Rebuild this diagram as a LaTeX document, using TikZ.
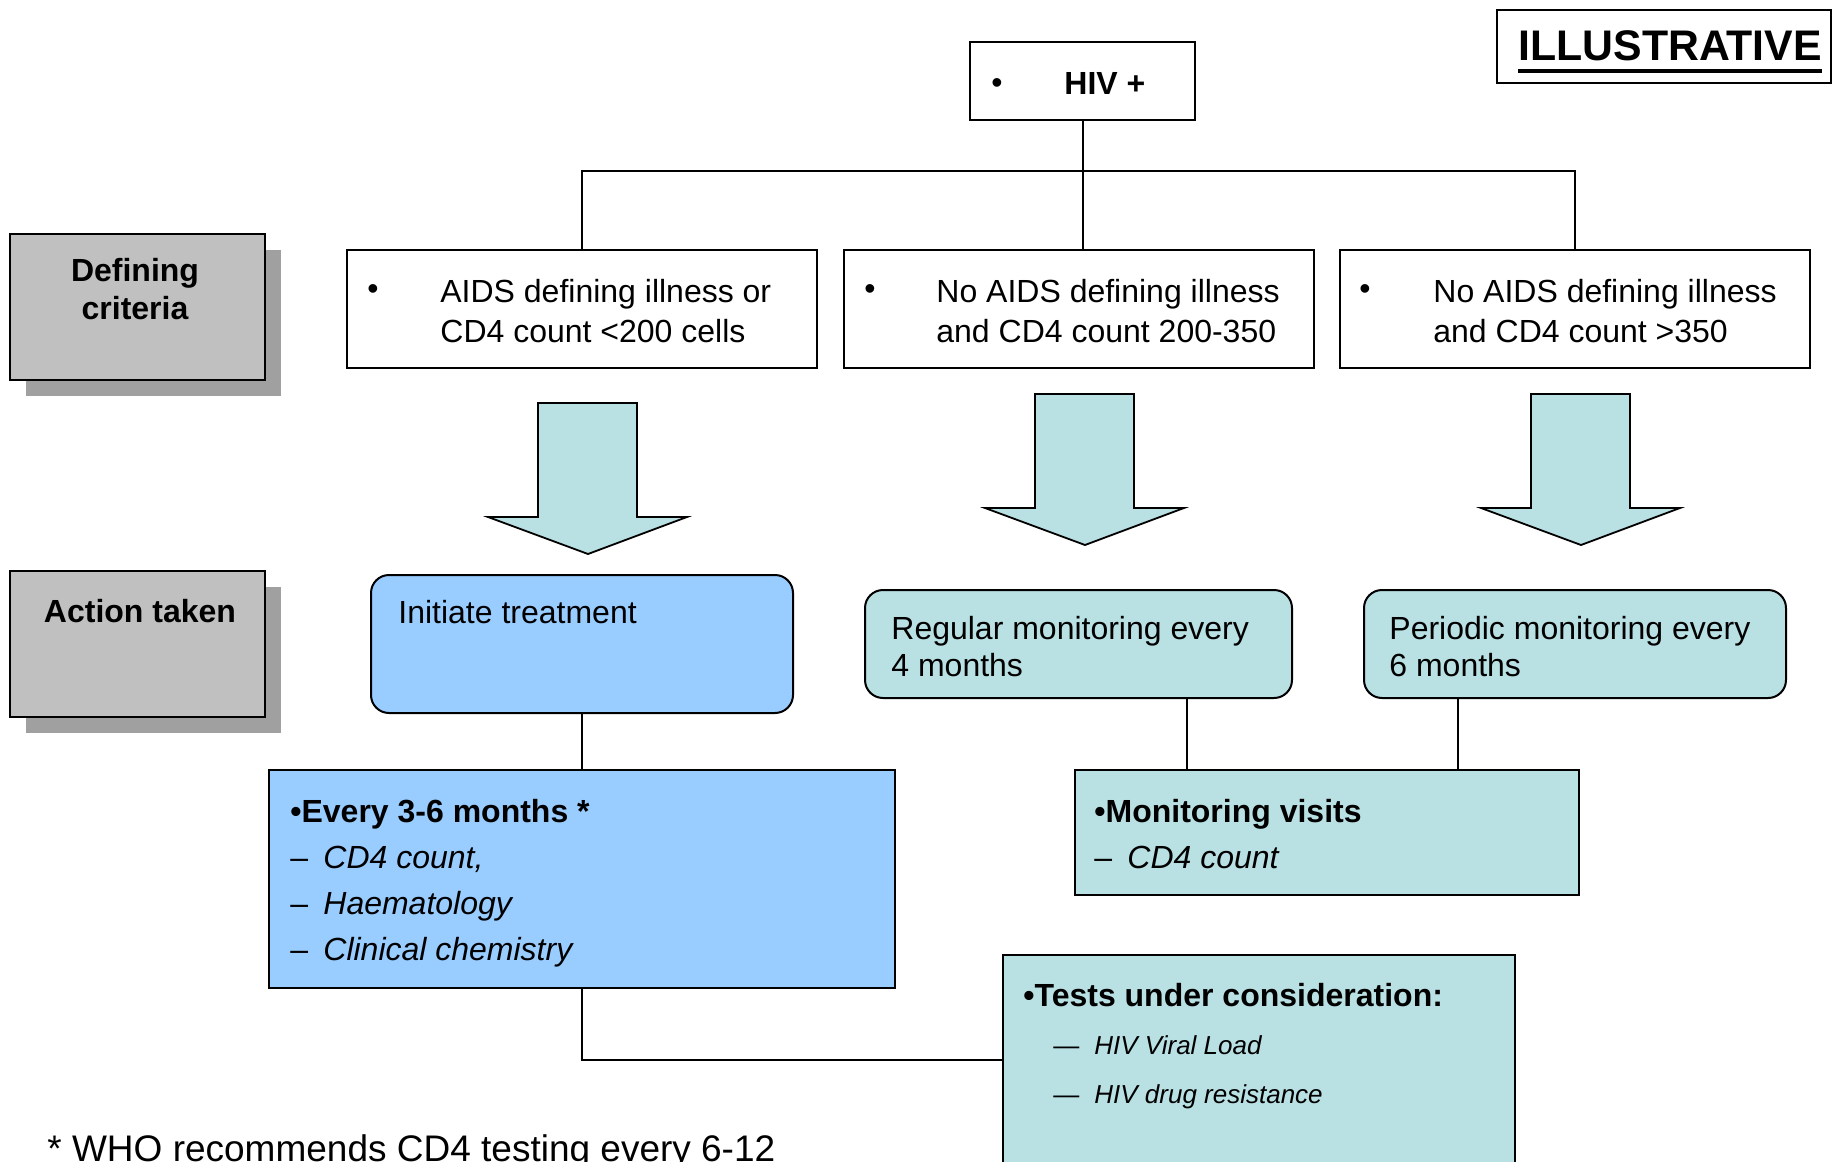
\documentclass[tikz,border=0pt]{standalone}
\usepackage{fontspec}
\setmainfont{Liberation Sans}
\usetikzlibrary{shadows}

\definecolor{tealbox}{RGB}{185,224,227}
\definecolor{bluebox}{RGB}{153,204,255}
\definecolor{labelgray}{RGB}{192,192,192}
\definecolor{shadowgray}{RGB}{160,160,160}
\newcommand{\boxfont}{\fontsize{16}{18.4}\selectfont}
\newcommand{\testfont}{\fontsize{13}{15}\selectfont}

\begin{document}
\begin{tikzpicture}[x=0.5pt, y=-0.5pt,
    every node/.style={font=\boxfont, inner sep=0pt},
    link/.style={line width=1pt},
    labelbox/.style={draw, line width=1pt, fill=labelgray, minimum width=127.5pt, minimum height=73pt,
      drop shadow={shadow xshift=8pt, shadow yshift=-8pt, fill=shadowgray, opacity=1}},
    critbox/.style={draw, line width=1pt, fill=white, minimum width=235pt, minimum height=59pt},
    actbox/.style={draw, line width=1pt, rounded corners=9pt},
    listbox/.style={draw, line width=1pt},
    bigarrow/.style={draw, line width=0.9pt, fill=tealbox},
    txt/.style={anchor=base west},
    dot/.style={anchor=center}
  ]

  \useasboundingbox (0,0) rectangle (1833,1162);

  % top
  \node[draw, line width=1pt, minimum width=112.5pt, minimum height=39pt] (hiv) at (1082.5,81) {};
  \node[dot] (hivdot) at (997,86) {\textbullet};
  \node[txt, font=\boxfont\bfseries] (hivtxt) at (1064,94) {HIV +};

  \node[draw, line width=1pt, minimum width=167pt, minimum height=36.5pt] (illus) at (1664,46.5) {};
  \node[txt, font=\fontsize{21.4}{24}\selectfont\bfseries] (illustxt) at (1518,60) {ILLUSTRATIVE};
  \draw[line width=2pt] ([yshift=-5.5pt]illustxt.base west) -- ([yshift=-5.5pt]illustxt.base east);

  % row labels
  \node[labelbox] (dc) at (137.5,307) {};
  \node[anchor=base, font=\boxfont\bfseries] (dca) at (135,281) {Defining};
  \node[anchor=base, font=\boxfont\bfseries] (dcb) at (135,319) {criteria};

  \node[labelbox] (at) at (137.5,643.5) {};
  \node[anchor=base, font=\boxfont\bfseries] (ata) at (140,622) {Action taken};

  % defining criteria
  \node[critbox] (c1) at (582,309) {};
  \node[dot] (c1dot) at (373,292) {\textbullet};
  \node[txt] (c1a) at (440,302) {AIDS defining illness or};
  \node[txt] (c1b) at (440,342) {CD4 count <200 cells};

  \node[critbox] (c2) at (1079,309) {};
  \node[dot] (c2dot) at (870,292) {\textbullet};
  \node[txt] (c2a) at (936,302) {No AIDS defining illness};
  \node[txt] (c2b) at (936,342) {and CD4 count 200-350};

  \node[critbox] (c3) at (1575,309) {};
  \node[dot] (c3dot) at (1365,292) {\textbullet};
  \node[txt] (c3a) at (1433,302) {No AIDS defining illness};
  \node[txt] (c3b) at (1433,342) {and CD4 count >350};

  \coordinate (bar) at (1083,171);
  \draw[link] (hiv.south) -- (hiv.south |- c2.north);
  \draw[link] (c1.north) |- (bar) -| (c3.north);

  % block arrows
  \foreach \ax/\ay in {588/403, 1085/394, 1581/394} {
    \draw[bigarrow] ({\ax-50},\ay) -- ++(99,0) -- ++(0,114) -- ++(50,0)
      -- (\ax,{\ay+151}) -- ({\ax-100},{\ay+114}) -- ++(50,0) -- cycle;
  }

  % actions
  \node[actbox, fill=bluebox, minimum width=211pt, minimum height=69pt] (it) at (582,644) {};
  \node[txt] (ittxt) at (398,623) {Initiate treatment};

  \node[actbox, fill=tealbox, minimum width=213.5pt, minimum height=54pt] (rm) at (1078.5,644) {};
  \node[txt] (rma) at (891,639) {Regular monitoring every};
  \node[txt] (rmb) at (891,676) {4 months};

  \node[actbox, fill=tealbox, minimum width=211pt, minimum height=54pt] (pm) at (1575,644) {};
  \node[txt] (pma) at (1389,639) {Periodic monitoring every};
  \node[txt] (pmb) at (1389,676) {6 months};

  % follow-up
  \node[listbox, fill=bluebox, minimum width=313pt, minimum height=109pt] (ev) at (582,879) {};
  \node[txt, font=\boxfont\bfseries] (eva) at (290,822) {\textbullet Every 3-6 months *};
  \node[txt] (evb) at (290,868) {\makebox[16.5pt][l]{–}\textit{CD4 count,}};
  \node[txt] (evc) at (290,914) {\makebox[16.5pt][l]{–}\textit{Haematology}};
  \node[txt] (evd) at (290,960) {\makebox[16.5pt][l]{–}\textit{Clinical chemistry}};

  \node[listbox, fill=tealbox, minimum width=252pt, minimum height=62.5pt] (mv) at (1327,832.5) {};
  \node[txt, font=\boxfont\bfseries] (mva) at (1094,822) {\textbullet Monitoring visits};
  \node[txt] (mvb) at (1094,868) {\makebox[16.5pt][l]{–}\textit{CD4 count}};

  \node[listbox, fill=tealbox, minimum width=256pt, minimum height=122.5pt] (ts) at (1259,1077.5) {};
  \node[txt, font=\boxfont\bfseries] (tsa) at (1023,1006) {\textbullet Tests under consideration:};
  \node[txt, font=\testfont] (tsb) at (1053,1054) {\makebox[20.5pt][l]{—}\textit{HIV Viral Load}};
  \node[txt, font=\testfont] (tsc) at (1053,1103) {\makebox[20.5pt][l]{—}\textit{HIV drug resistance}};

  \coordinate (rmdrop) at (1187,0);
  \coordinate (pmdrop) at (1458,0);
  \coordinate (tsin) at (1003,1060);
  \draw[link] (it.south) -- (ev.north);
  \draw[link] (rm.south -| rmdrop) -- (mv.north -| rmdrop);
  \draw[link] (pm.south -| pmdrop) -- (mv.north -| pmdrop);
  \draw[link] (ev.south) |- (tsin);

  % footnote
  \node[txt, font=\fontsize{18.5}{22}\selectfont] (note) at (47,1161) {* WHO recommends CD4 testing every 6-12};

\end{tikzpicture}
\end{document}
